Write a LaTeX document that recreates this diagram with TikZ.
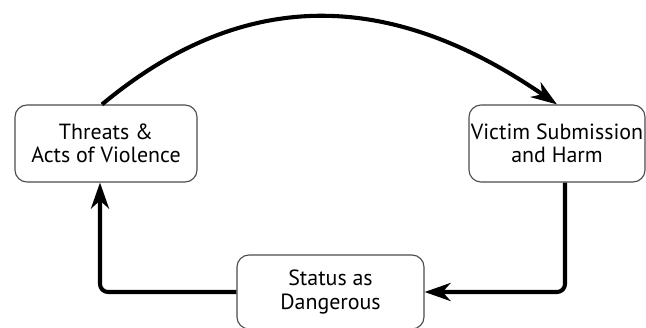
\documentclass[tikz,border=0pt]{standalone}
\usepackage{fontspec}
\setmainfont{PT Sans}
\usetikzlibrary{arrows.meta}
\begin{document}
\begin{tikzpicture}
	\tikzset{stage/.style={draw=black!70, line width=0.8pt, rounded corners=0.3cm, align=center, inner sep=0pt, font=\fontsize{15.6}{16.8}\selectfont}}
	\tikzset{arrow/.style={draw, line width=2.9pt, -{Stealth[length=0.65cm, width=0.45cm, inset=0.2cm]}}}
	\useasboundingbox (0, 0) rectangle (16.15, 8.175);
	
	\node[stage, minimum width=4.55cm, minimum height=1.925cm] (threats) at (2.65, 4.5875) {Threats \&\\Acts of Violence};
	\node[stage, minimum width=4.4cm, minimum height=1.925cm] (victim) at (13.925, 4.5875) {Victim Submission\\and Harm};
	\node[stage, minimum width=4.675cm, minimum height=1.85cm] (status) at (8.2625, 0.875) {Status as\\Dangerous};
	
	\draw[arrow] ([xshift=-0.1cm]threats.north) .. controls (6.05, 8.48) and (9.7, 8.48) .. (victim.north);
	\draw[arrow, rounded corners=0.2cm] ([xshift=0.2cm]victim.south) |- (status.east);
	\draw[arrow, rounded corners=0.2cm] (status.west) -| ([xshift=-0.15cm]threats.south);
\end{tikzpicture}
\end{document}
